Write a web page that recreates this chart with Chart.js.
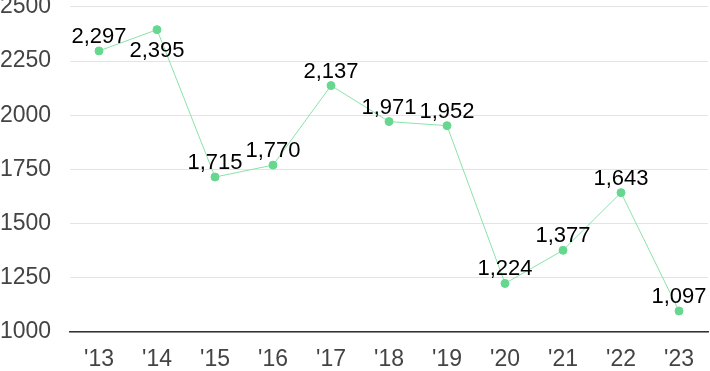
<!DOCTYPE html>
<html>
<head>
<meta charset="utf-8">
<script src="https://cdn.jsdelivr.net/npm/chart.js@4/dist/chart.umd.min.js"></script>
<style>
  html, body { margin: 0; padding: 0; background: #fff; }
  #wrap { width: 710px; height: 371px; }
</style>
</head>
<body>
<div id="wrap"><canvas id="chart"></canvas></div>
<script>
const years = ["'13", "'14", "'15", "'16", "'17", "'18", "'19", "'20", "'21", "'22", "'23"];
const values = [2297, 2395, 1715, 1770, 2137, 1971, 1952, 1224, 1377, 1643, 1097];
const yTicks = [1000, 1250, 1500, 1750, 2000, 2250, 2500];

// labels drawn below the point instead of above
const labelsBelow = [1];

const FONT = "'Liberation Sans', Arial, sans-serif";

const pointLabels = {
  id: "pointLabels",
  afterDatasetsDraw(chart) {
    const ctx = chart.ctx;
    const meta = chart.getDatasetMeta(0);
    ctx.save();
    ctx.font = "22px " + FONT;
    ctx.fillStyle = "#000";
    ctx.textAlign = "center";
    ctx.textBaseline = "alphabetic";
    meta.data.forEach((pt, i) => {
      const text = values[i].toLocaleString("en-US");
      const y = labelsBelow.includes(i) ? pt.y + 27 : pt.y - 8;
      ctx.fillText(text, pt.x, y);
    });
    ctx.restore();
  }
};

const ctx = document.getElementById("chart").getContext("2d");
new Chart(ctx, {
  type: "line",
  data: {
    labels: years,
    datasets: [{
      data: values,
      borderColor: "#8ae3a8",
      borderWidth: 1,
      pointBackgroundColor: "#66d78f",
      pointBorderColor: "#66d78f",
      pointRadius: 4,
      tension: 0,
      clip: false
    }]
  },
  options: {
    responsive: true,
    maintainAspectRatio: false,
    animation: false,
    layout: { autoPadding: false, padding: 0 },
    plugins: {
      legend: { display: false },
      tooltip: { enabled: false }
    },
    scales: {
      x: {
        offset: true,
        afterFit(scale) {
          scale.height = 39;
        },
        grid: { display: false, drawTicks: false },
        border: { display: true, color: "#333", width: 1.5 },
        ticks: {
          color: "#444",
          font: { family: FONT, size: 23, lineHeight: 1 },
          padding: 16
        }
      },
      y: {
        min: 1000,
        max: 2500,
        afterBuildTicks(scale) {
          scale.ticks = yTicks.map(v => ({ value: v }));
        },
        afterFit(scale) {
          scale.width = 70;
        },
        grid: { color: "#e4e4e4", drawTicks: false },
        border: { display: false },
        ticks: {
          color: "#444",
          font: { family: FONT, size: 23, lineHeight: 0.6 },
          padding: 0,
          crossAlign: "far",
          callback: v => String(v)
        }
      }
    }
  },
  plugins: [pointLabels]
});
</script>
</body>
</html>
